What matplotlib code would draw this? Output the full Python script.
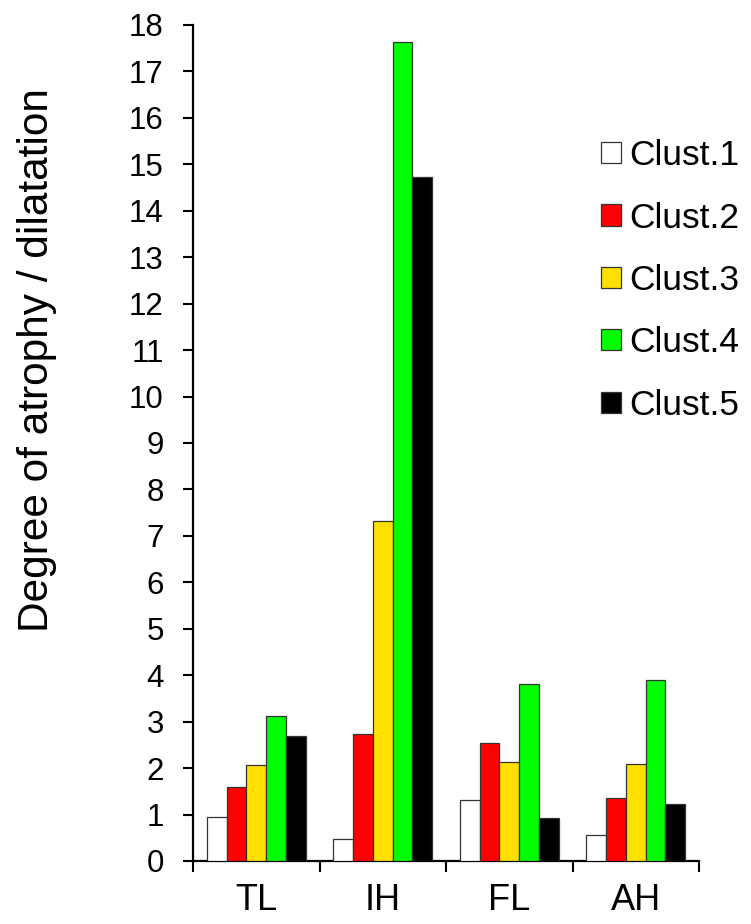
import matplotlib
matplotlib.use("Agg")
import matplotlib.pyplot as plt
import numpy as np

categories = ["TL", "IH", "FL", "AH"]
series_names = ["Clust.1", "Clust.2", "Clust.3", "Clust.4", "Clust.5"]
clust1 = [0.95, 0.47, 1.32, 0.55]
clust2 = [1.59, 2.74, 2.55, 1.36]
clust3 = [2.07, 7.31, 2.14, 2.08]
clust4 = [3.12, 17.64, 3.81, 3.89]
clust5 = [2.70, 14.73, 0.93, 1.23]
yticks = list(range(0, 19))

values = [clust1, clust2, clust3, clust4, clust5]
colors = ["#FFFFFF", "#FF0000", "#FFE000", "#00FF00", "#000000"]

plt.rcParams['font.family'] = ['Liberation Sans', 'DejaVu Sans']

fig = plt.figure(figsize=(7.51, 9.24), dpi=100)
ax = fig.add_axes([193/751, 63/924, (699-193)/751, (861-25)/924])

x = np.arange(len(categories))
w = 0.156
for i, (vals, c, name) in enumerate(zip(values, colors, series_names)):
    ax.bar(x + (i - 2) * w, vals, width=w, color=c, edgecolor="#333333",
           linewidth=0.9, label=name, zorder=3)

ax.set_xlim(-0.5, len(categories) - 0.5)
ax.set_ylim(0, 18)
ax.set_yticks(yticks)
ax.set_yticklabels([str(t) for t in yticks], fontsize=22.5)
ax.set_xticks(x)
ax.set_xticklabels(categories, fontsize=26)
ax.set_xticks(np.arange(-0.5, len(categories)), minor=True)
ax.tick_params(axis='x', which='major', length=0, pad=16)
ax.tick_params(axis='x', which='minor', length=8, width=1.5, direction='out')
ax.tick_params(axis='y', length=7, width=1.5, direction='out', pad=14)

for s in ['top', 'right']:
    ax.spines[s].set_visible(False)
for s in ['left', 'bottom']:
    ax.spines[s].set_linewidth(1.6)
    ax.spines[s].set_color('black')

fig.text(37/751, 1 - 360/924, "Degree of atrophy / dilatation", rotation=90,
         fontsize=30.5, ha='center', va='center')

leg = fig.legend(loc='upper left', bbox_to_anchor=(587/751, 1 - 125/924),
                 frameon=False, fontsize=25.5, handlelength=0.55, handleheight=0.55,
                 handletextpad=0.25, labelspacing=0.83, borderaxespad=0)

fig.savefig("out.png", dpi=100)
